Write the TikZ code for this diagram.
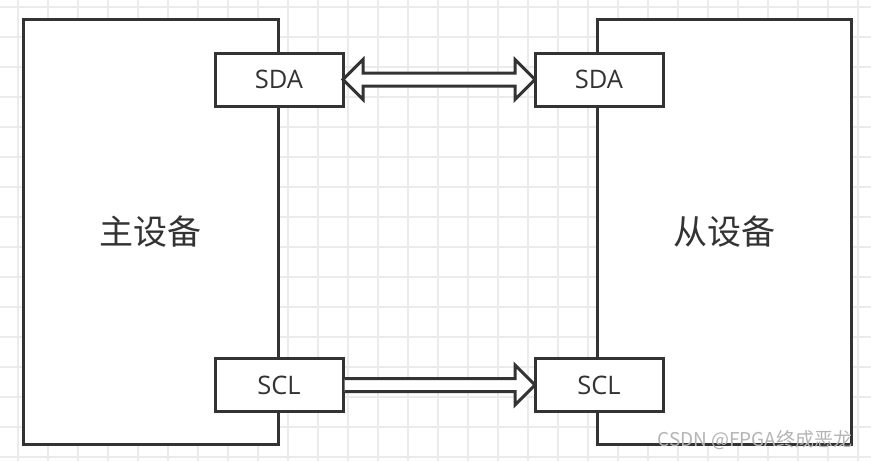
\documentclass[tikz,border=0pt]{standalone}
\usepackage{fontspec}
\setmainfont{Noto Sans CJK SC}
\newfontfamily\portfont{Open Sans}
\usepackage{xcolor}
\definecolor{inkline}  {HTML}{333333}
\definecolor{gridline} {HTML}{EBEBEB}
\definecolor{stamptext}{HTML}{B4B4B4}
\usetikzlibrary{calc}

\begin{document}
\begin{tikzpicture}[
    x=1pt, y=-1pt,
    every node/.style={text=inkline},
    device/.style={draw=inkline, fill=white, line width=3pt, rectangle,
                   minimum width=254.5pt, minimum height=425pt,
                   inner sep=0pt, outer sep=0pt,
                   font=\fontsize{34}{38}\selectfont},
    port/.style={draw=inkline, fill=white, line width=3pt, rectangle,
                 minimum width=128pt, minimum height=53pt,
                 inner sep=0pt, outer sep=0pt,
                 font=\portfont\fontsize{25.5}{28}\selectfont},
    bus/.style={draw=inkline, fill=white, line width=3pt, line join=miter},
    bgline/.style={gridline, line width=1.3pt},
    stamp/.style={font=\fontsize{19}{21}\selectfont, text=stamptext}
]
\useasboundingbox[fill=white] (0,0) rectangle (871,461);
% Background grid
\foreach \gx in {18,48,...,858} {
    \draw[bgline] (\gx,0) -- (\gx,461);
}
\foreach \gy in {7,37,...,457} {
    \draw[bgline] (0,\gy) -- (871,\gy);
}
% Master and slave
\node[device] (master) at (150.75, 231.5) {主设备};
\node[device] (slave)  at (724.25, 231.5) {从设备};
% Ports
\node[port] (sdaL) at (279, 79.5) {SDA};
\node[port] (sdaR) at (599, 79.5) {SDA};
\node[port] (sclL) at (279, 385) {SCL};
\node[port] (sclR) at (599, 385) {SCL};
% SDA: both ways
\draw[bus] (sdaL.east) -- ++(20,-20) -- ++(0,13.5)
    -- ($(sdaR.west)+(-20,-6.5)$) -- ++(0,-13.5) -- (sdaR.west)
    -- ++(-20,20) -- ++(0,-13.5)
    -- ($(sdaL.east)+(20,6.5)$) -- ++(0,13.5) -- cycle;
% SCL: master to slave
\draw[bus] ($(sclL.east)+(1.5,-6.5)$)
    -- ($(sclR.west)+(-20,-6.5)$) -- ++(0,-13.5) -- (sclR.west)
    -- ++(-20,20) -- ++(0,-13.5)
    -- ($(sclL.east)+(1.5,6.5)$);
% Watermark
\node[stamp] (mark) at (755, 440) {CSDN @FPGA终成恶龙};
\end{tikzpicture}
\end{document}
